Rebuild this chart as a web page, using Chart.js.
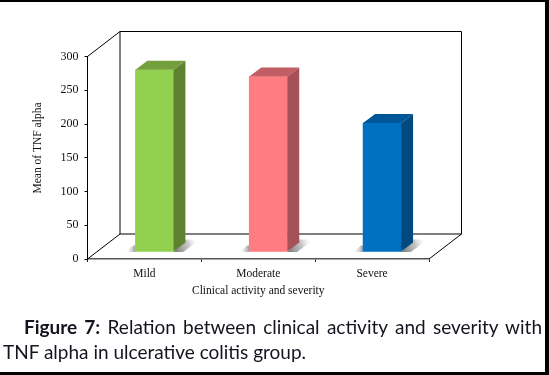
<!DOCTYPE html>
<html>
<head>
<meta charset="utf-8">
<script src="https://cdn.jsdelivr.net/npm/chart.js@4"></script>
<style>
    html,body{margin:0;padding:0;background:#fff;}
    #box{position:relative;width:549px;height:375px;overflow:hidden;box-sizing:border-box;
         border-top:2px solid #000;border-right:4px solid #000;border-bottom:3px solid #000;}
    #chart{position:absolute;left:0;top:-2px;}
    #caption{position:absolute;left:0;top:312px;width:542px;font:19px/25px Lato,"Noto Sans",sans-serif;color:#14141e;}
    #caption div{white-space:nowrap;padding-left:3px;}
    #caption .first{padding-left:24px;text-align:justify;text-align-last:justify;white-space:normal;}
</style>
</head>
<body>
<div id="box">
    <canvas id="chart" width="549" height="375"></canvas>
    <div id="caption">
        <div class="first"><b>Figure 7:</b> Relation between clinical activity and severity with</div>
        <div>TNF alpha in ulcerative colitis group.</div>
    </div>
</div>
<script>
let categories = ["Mild", "Moderate", "Severe"];
let tnfMeans = [270, 260, 191];
let yTicks = [0, 50, 100, 150, 200, 250, 300];
let yTitle = "Mean of TNF alpha";

let frontColors = ["#92D050", "#FF7C80", "#0070C0"];
let sideColors = ["#5F8231", "#A65157", "#004A80"];
let topColors = ["#739F3D", "#C25E63", "#005797"];

////// depth of the box and of the bars
const wallDx = 32.5, wallDy = -25;
const barShiftX = 10, barShiftY = -7;
const barDx = 12, barDy = -9;

function poly(ctx, pts, fill){
    ctx.beginPath();
    ctx.moveTo(pts[0][0], pts[0][1]);
    for(let i = 1; i < pts.length; i++){
        ctx.lineTo(pts[i][0], pts[i][1]);
    }
    ctx.closePath();
    ctx.fillStyle = fill;
    ctx.fill();
}

const box3d = {
    id: "box3d",
    beforeDatasetsDraw(chart){
        const ctx = chart.ctx;
        const a = chart.chartArea;
        const backL = a.left + wallDx, backR = a.right + wallDx;
        const backT = a.top + wallDy, backB = a.bottom + wallDy;
        ctx.save();
        ctx.strokeStyle = "#000";
        ctx.lineWidth = 1;
        ctx.beginPath();
        ctx.moveTo(a.left, a.top);
        ctx.lineTo(backL, backT);
        ctx.lineTo(backR, backT);
        ctx.lineTo(backR, backB);
        ctx.lineTo(a.right, a.bottom);
        ctx.moveTo(backL, backT);
        ctx.lineTo(backL, backB);
        ctx.lineTo(a.left, a.bottom);
        ctx.moveTo(backL, backB);
        ctx.lineTo(backR, backB);
        ctx.stroke();

        // shadows on the floor, and the shift for the bars themselves
        chart.getDatasetMeta(0).data.forEach(function(bar){
            const p = bar.getProps(["x", "base", "width"], true);
            const r = p.x + barShiftX + p.width / 2;
            const l = p.x + barShiftX - p.width / 2;
            const b = p.base + barShiftY;
            const g = ctx.createLinearGradient(r + 2, b, r + 24, b - 8);
            g.addColorStop(0, "rgba(110,110,110,0.9)");
            g.addColorStop(0.6, "rgba(160,160,160,0.6)");
            g.addColorStop(1, "rgba(210,210,210,0)");
            poly(ctx, [[r, b + 0.5], [r + 12, b - 12], [r + 26, b - 12], [r + 10, b + 0.5]], g);
            const g2 = ctx.createLinearGradient(l - 9, b, l, b);
            g2.addColorStop(0, "rgba(200,200,200,0)");
            g2.addColorStop(1, "rgba(130,130,130,0.8)");
            poly(ctx, [[l, b + 0.5], [l - 10, b + 0.5], [l - 2, b - 6], [l, b - 6]], g2);
        });
        ctx.restore();
        ctx.save();
        ctx.translate(barShiftX, barShiftY);
    },
    afterDatasetsDraw(chart){
        const ctx = chart.ctx;
        chart.getDatasetMeta(0).data.forEach(function(bar, i){
            const p = bar.getProps(["x", "y", "base", "width"], true);
            const l = p.x - p.width / 2, r = p.x + p.width / 2;
            poly(ctx, [[r, p.y], [r + barDx, p.y + barDy], [r + barDx, p.base + barDy], [r, p.base]], sideColors[i]);
            poly(ctx, [[l, p.y], [l + barDx, p.y + barDy], [r + barDx, p.y + barDy], [r, p.y]], topColors[i]);
        });
        ctx.restore();

        // y title sits above the middle of the axis in the original
        ctx.save();
        ctx.translate(38, 148);
        ctx.rotate(-Math.PI / 2);
        ctx.font = "11.5px 'Liberation Serif'";
        ctx.fillStyle = "#111";
        ctx.textAlign = "center";
        ctx.textBaseline = "middle";
        ctx.fillText(yTitle, 0, 0);
        ctx.restore();
    }
};

new Chart(document.getElementById("chart"), {
    type: "bar",
    data: {
        labels: categories,
        datasets: [{
            data: tnfMeans,
            backgroundColor: frontColors,
            barThickness: 38
        }]
    },
    plugins: [box3d],
    options: {
        responsive: false,
        animation: false,
        layout: { padding: { top: 56.5, right: 120, bottom: 77, left: 32 } },
        plugins: { legend: { display: false }, tooltip: { enabled: false } },
        scales: {
            x: {
                afterFit(scale){ scale.height = 39; },
                border: { color: "#555", width: 1.5 },
                grid: { drawOnChartArea: false, color: "#222", tickLength: 3 },
                ticks: { color: "#111", font: { family: "Liberation Serif", size: 11.5 }, padding: 5, maxRotation: 0 },
                title: {
                    display: true,
                    text: "Clinical activity and severity",
                    color: "#111",
                    font: { family: "Liberation Serif", size: 11.5 },
                    padding: { top: 7, bottom: 0 }
                }
            },
            y: {
                min: 0,
                max: 300,
                afterFit(scale){ scale.width = 55.5; },
                afterBuildTicks(scale){ scale.ticks = yTicks.map(function(v){ return { value: v }; }); },
                border: { color: "#000", width: 1 },
                grid: { drawOnChartArea: false, color: "#000", tickLength: 3 },
                ticks: { color: "#111", font: { family: "Liberation Serif", size: 12 }, padding: 6 }
            }
        }
    }
});
</script>
</body>
</html>
